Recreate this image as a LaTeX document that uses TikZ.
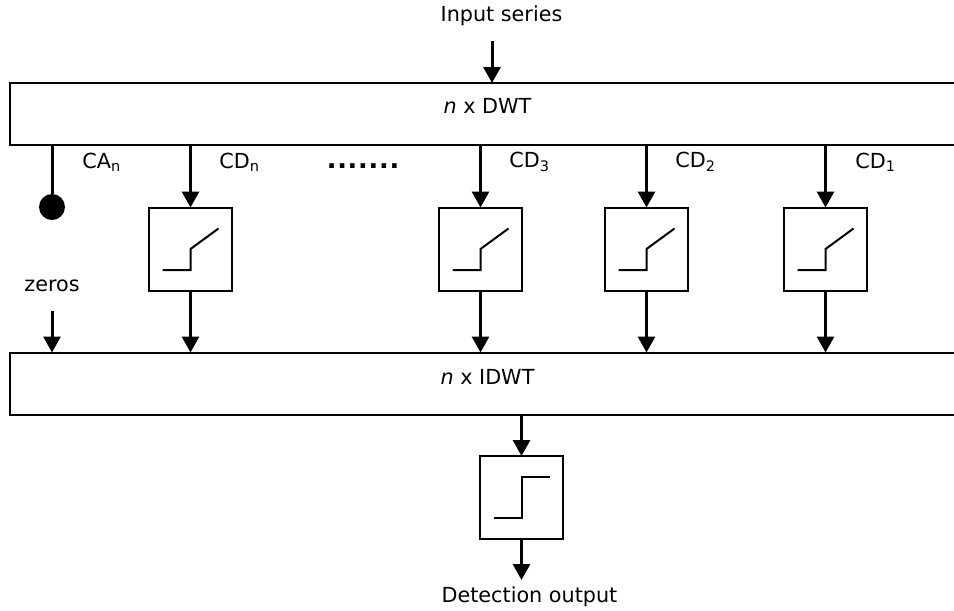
\documentclass[tikz,border=0pt]{standalone}
\usepackage{fontspec}
\setmainfont{DejaVu Sans}
\usetikzlibrary{arrows.meta, calc, positioning}
\tikzstyle{bar} = [rectangle, minimum width=19.28cm, minimum height=1.24cm, draw=black, line width=0.04cm, outer sep=0pt]
\tikzstyle{thresh} = [rectangle, minimum width=1.66cm, minimum height=1.66cm, draw=black, line width=0.04cm, outer sep=0pt]
\tikzstyle{curve} = [line width=0.04cm]
\tikzstyle{arrow} = [line width=0.06cm,-{Triangle[length=0.32cm,width=0.34cm]}]
\tikzstyle{label} = [inner sep=0pt, font=\fontsize{11.8}{14}\selectfont]

\begin{document}
\begin{tikzpicture}[node distance=2cm]
\clip (0,0) rectangle (19.08,-12.2);

% Nodes
\node (input) [label] at (10.03,-0.32) {Input series};
\node (dwt) [bar] at (9.84,-2.28) {};
\node (idwt) [bar] at (9.84,-7.67) {};
\node (dwtname) [label] at ($(dwt)+(-0.09,0.16)$) {\textit{n} x DWT};
\node (idwtname) [label] at ($(idwt)+(-0.09,0.14)$) {\textit{n} x IDWT};

\node (cadot) [circle, fill=black, inner sep=0pt, minimum size=0.52cm] at (1.04,-4.14) {};
\node (thn) [thresh] at (3.81,-4.98) {};
\node (th3) [thresh, right of=thn, node distance=5.8cm] {};
\node (th2) [thresh, right of=th3, node distance=3.32cm] {};
\node (th1) [thresh, right of=th2, node distance=3.58cm] {};
\node (detect) [thresh] at (10.43,-9.95) {};

\node (zeros) [label] at (1.04,-5.72) {zeros};
\node (output) [label] at (10.59,-11.94) {Detection output};

% Coefficient labels
\node (can) [label, anchor=west] at (1.64,-3.24) {CA\textsubscript{n}};
\node (cdn) [label, anchor=west] at (4.38,-3.24) {CD\textsubscript{n}};
\node (cd3) [label, anchor=west] at (10.18,-3.24) {CD\textsubscript{3}};
\node (cd2) [label, anchor=west] at (13.5,-3.24) {CD\textsubscript{2}};
\node (cd1) [label, anchor=west] at (17.1,-3.24) {CD\textsubscript{1}};
\node (dots) [label, font=\fontsize{14.5}{16}\selectfont] at (7.26,-3.32) {\bfseries\addfontfeature{LetterSpace=3}.......};

% Arrows
\draw [arrow] ($(dwt.north)+(0,0.84)$) -- (dwt.north);
\draw [line width=0.06cm] (dwt.south -| cadot) -- (cadot);
\foreach \n in {thn,th3,th2,th1} {
  \draw [arrow] (dwt.south -| \n) -- (\n.north);
  \draw [arrow] (\n.south) -- (\n.south |- idwt.north);
  % Threshold curve
  \draw [curve] ($(\n)+(-0.56,-0.42)$) -- ($(\n)+(0,-0.42)$) -- (\n.center) -- ($(\n)+(0.56,0.41)$);
}
\draw [arrow] ($(zeros)+(0,-0.5)$) -- (zeros |- idwt.north);
\draw [arrow] (idwt.south -| detect) -- (detect.north);
\draw [arrow] (detect.south) -- ($(detect.south)+(0,-0.82)$);

% Step curve
\draw [curve] ($(detect)+(-0.56,-0.41)$) -- ($(detect)+(0,-0.41)$) -- ($(detect)+(0,0.41)$) -- ($(detect)+(0.57,0.41)$);

\end{tikzpicture}
\end{document}
